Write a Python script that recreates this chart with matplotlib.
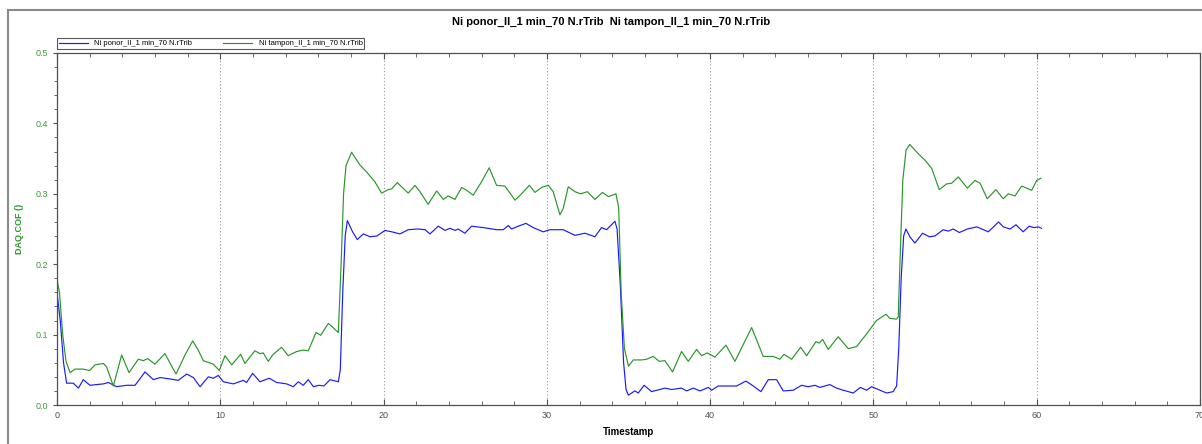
import numpy as np
import matplotlib
matplotlib.use("Agg")
import matplotlib.pyplot as plt
from matplotlib.patches import Rectangle
from matplotlib.ticker import MultipleLocator

plt.rcParams["font.family"] = ["Liberation Sans", "DejaVu Sans"]

TITLE = "Ni ponor_II_1 min_70 N.rTrib  Ni tampon_II_1 min_70 N.rTrib"
LABEL_PONOR = "Ni ponor_II_1 min_70 N.rTrib"
LABEL_TAMPON = "Ni tampon_II_1 min_70 N.rTrib"

# Ni tampon (green) - timestamp / COF
t_tampon = [0.0, 0.15, 0.35, 0.55, 0.8, 1.1, 1.6, 2.0, 2.33, 2.84, 3.04, 3.45, 3.96, 4.41, 4.98,
            5.29, 5.55, 6.0, 6.61, 7.29, 7.84, 8.31, 8.65, 8.96, 9.57, 9.94, 10.29, 10.7, 11.25,
            11.51, 12.12, 12.43, 12.63, 12.94, 13.2, 13.75, 14.16, 14.68, 15.08, 15.39, 15.86,
            16.15, 16.62, 17.23, 17.4, 17.55, 17.7, 18.04, 18.55, 18.96, 19.47, 19.88, 20.29,
            20.5, 20.84, 21.1, 21.51, 21.92, 22.23, 22.73, 23.25, 23.66, 23.96, 24.37, 24.78,
            25.09, 25.49, 26.0, 26.47, 26.92, 27.43, 28.05, 28.45, 28.93, 29.27, 29.68, 30.09,
            30.39, 30.8, 31.0, 31.31, 31.72, 32.07, 32.48, 32.94, 33.41, 33.76, 34.23, 34.4,
            34.55, 34.75, 35.0, 35.29, 35.8, 36.11, 36.51, 36.88, 37.23, 37.7, 38.25, 38.66,
            39.17, 39.48, 39.82, 40.29, 40.97, 41.52, 42.54, 43.25, 43.86, 44.27, 44.52, 44.99,
            45.54, 45.91, 46.48, 46.68, 46.89, 47.23, 47.84, 48.46, 48.97, 49.58, 50.19, 50.77,
            51.0, 51.42, 51.52, 51.65, 51.8, 52.0, 52.23, 52.74, 53.15, 53.57, 54.03, 54.48,
            54.79, 55.2, 55.75, 56.22, 56.53, 56.97, 57.5, 57.95, 58.26, 58.67, 59.08, 59.69,
            60.0, 60.25]
cof_tampon = [0.178, 0.16, 0.10, 0.062, 0.046, 0.051, 0.051, 0.049, 0.057, 0.059, 0.054, 0.027,
              0.071, 0.046, 0.065, 0.063, 0.066, 0.058, 0.073, 0.044, 0.071, 0.091, 0.078, 0.063,
              0.058, 0.049, 0.070, 0.057, 0.072, 0.059, 0.077, 0.073, 0.074, 0.062, 0.071, 0.082,
              0.070, 0.076, 0.078, 0.077, 0.103, 0.099, 0.116, 0.103, 0.20, 0.30, 0.34, 0.359,
              0.341, 0.331, 0.317, 0.301, 0.306, 0.307, 0.316, 0.310, 0.301, 0.312, 0.303, 0.285,
              0.304, 0.292, 0.297, 0.292, 0.309, 0.305, 0.298, 0.317, 0.337, 0.312, 0.311, 0.291,
              0.300, 0.312, 0.302, 0.309, 0.312, 0.303, 0.270, 0.279, 0.310, 0.303, 0.300, 0.303,
              0.292, 0.302, 0.296, 0.300, 0.28, 0.16, 0.08, 0.055, 0.064, 0.064, 0.065, 0.069,
              0.062, 0.063, 0.047, 0.076, 0.062, 0.079, 0.070, 0.074, 0.068, 0.085, 0.062, 0.110,
              0.069, 0.069, 0.065, 0.072, 0.065, 0.082, 0.070, 0.090, 0.088, 0.093, 0.079, 0.097,
              0.080, 0.083, 0.101, 0.120, 0.129, 0.123, 0.122, 0.125, 0.22, 0.32, 0.362, 0.370,
              0.357, 0.348, 0.336, 0.306, 0.314, 0.315, 0.324, 0.308, 0.319, 0.315, 0.293, 0.306,
              0.293, 0.300, 0.297, 0.311, 0.305, 0.319, 0.322]

# Ni ponor (blue)
t_ponor = [0.0, 0.2, 0.4, 0.59, 1.0, 1.31, 1.61, 2.02, 2.84, 3.14, 3.65, 4.27, 4.78, 5.39, 5.9,
           6.31, 6.92, 7.43, 7.94, 8.35, 8.76, 9.27, 9.57, 9.88, 10.19, 10.8, 11.41, 11.61,
           11.98, 12.43, 13.0, 13.45, 14.06, 14.47, 14.78, 15.08, 15.39, 15.7, 16.06, 16.35,
           16.72, 17.23, 17.35, 17.5, 17.65, 17.78, 18.1, 18.39, 18.76, 19.17, 19.58, 20.09,
           20.5, 21.0, 21.51, 22.13, 22.54, 22.84, 23.35, 23.76, 24.07, 24.37, 24.57, 24.98,
           25.39, 26.1, 26.92, 27.33, 27.64, 27.84, 28.25, 28.72, 29.17, 29.78, 30.19, 31.0,
           31.72, 32.33, 32.94, 33.35, 33.66, 34.17, 34.3, 34.5, 34.7, 34.85, 34.99, 35.39,
           35.6, 35.95, 36.42, 37.23, 37.64, 38.25, 38.56, 38.97, 39.38, 39.89, 40.09, 40.5,
           41.11, 41.62, 42.19, 42.64, 43.11, 43.56, 44.07, 44.48, 45.09, 45.6, 46.0, 46.42,
           46.72, 47.33, 47.74, 48.15, 48.76, 49.2, 49.58, 49.89, 50.3, 50.81, 51.21, 51.42,
           51.55, 51.7, 51.85, 51.99, 52.23, 52.54, 53.01, 53.42, 53.76, 54.27, 54.58, 54.89,
           55.26, 55.75, 56.33, 56.63, 57.04, 57.66, 57.96, 58.37, 58.73, 59.17, 59.54, 59.83,
           60.09, 60.29]
cof_ponor = [0.159, 0.12, 0.06, 0.031, 0.031, 0.024, 0.036, 0.028, 0.030, 0.032, 0.026, 0.028,
             0.028, 0.047, 0.036, 0.039, 0.037, 0.035, 0.044, 0.039, 0.026, 0.040, 0.038, 0.042,
             0.033, 0.030, 0.035, 0.032, 0.045, 0.033, 0.038, 0.032, 0.030, 0.026, 0.033, 0.028,
             0.036, 0.026, 0.028, 0.027, 0.036, 0.033, 0.05, 0.16, 0.24, 0.262, 0.246, 0.235,
             0.243, 0.239, 0.240, 0.248, 0.246, 0.243, 0.249, 0.250, 0.249, 0.243, 0.254, 0.248,
             0.251, 0.248, 0.250, 0.244, 0.254, 0.252, 0.249, 0.249, 0.255, 0.250, 0.254, 0.258,
             0.252, 0.246, 0.249, 0.249, 0.241, 0.244, 0.239, 0.252, 0.249, 0.261, 0.25, 0.17,
             0.06, 0.022, 0.014, 0.020, 0.017, 0.028, 0.019, 0.024, 0.022, 0.024, 0.020, 0.024,
             0.020, 0.025, 0.021, 0.027, 0.027, 0.027, 0.034, 0.027, 0.019, 0.036, 0.036, 0.020,
             0.021, 0.028, 0.026, 0.028, 0.025, 0.029, 0.024, 0.021, 0.017, 0.025, 0.021, 0.026,
             0.022, 0.017, 0.019, 0.027, 0.08, 0.18, 0.24, 0.250, 0.239, 0.230, 0.244, 0.239,
             0.240, 0.249, 0.247, 0.250, 0.245, 0.250, 0.253, 0.250, 0.246, 0.260, 0.253, 0.250,
             0.256, 0.246, 0.254, 0.252, 0.253, 0.251]

W, H = 1202, 444
fig = plt.figure(figsize=(W / 100, H / 100), dpi=100)
ax = fig.add_axes([57 / W, 1 - 405 / H, (1200 - 57) / W, (405 - 53) / H])

# grey outer frame of the exported window
fig.patches.append(Rectangle((8 / W, -0.05), 1.2, 1 - 10 / H + 0.05, transform=fig.transFigure,
                             fill=False, edgecolor="#8a8a8a", linewidth=1.5))

ax.plot(t_ponor, cof_ponor, color="#1a1aff", linewidth=0.85, label=LABEL_PONOR)
ax.plot(t_tampon, cof_tampon, color="#2a962a", linewidth=0.85, label=LABEL_TAMPON)

ax.set_xlim(0, 70)
ax.set_ylim(0, 0.5)
ax.xaxis.set_major_locator(MultipleLocator(10))
ax.xaxis.set_minor_locator(MultipleLocator(2))
ax.yaxis.set_major_locator(MultipleLocator(0.1))
ax.yaxis.set_minor_locator(MultipleLocator(0.02))
ax.yaxis.set_major_formatter(matplotlib.ticker.FormatStrFormatter("%.1f"))

ax.grid(axis="x", which="major", linestyle=(0, (1, 2)), color="#9a9a9a", linewidth=0.8)
for s in ax.spines.values():
    s.set_color("#505050")
    s.set_linewidth(0.9)

ax.tick_params(axis="x", which="both", direction="in", top=True, color="#505050",
               labelsize=6.5, labelcolor="#505050", pad=4)
ax.tick_params(axis="x", which="major", length=4)
ax.tick_params(axis="x", which="minor", length=3)
ax.tick_params(axis="y", which="both", direction="out", color="#505050",
               labelsize=6.5, labelcolor="#3c9a3c")
ax.tick_params(axis="y", which="major", length=3)
ax.tick_params(axis="y", which="minor", length=2)

ax.set_xlabel("Timestamp", fontsize=7, fontweight="bold", color="black", labelpad=5)
ax.set_ylabel("DAQ.COF ()", fontsize=6.5, fontweight="bold", color="#2a962a")
ax.yaxis.set_label_coords(-0.029, 0.5)

fig.text(611 / W, 1 - 22 / H, TITLE, ha="center", va="center", fontsize=8, fontweight="bold")

leg = ax.legend(loc="lower left", bbox_to_anchor=(0, 1.012), ncol=2, fontsize=5.5,
                frameon=True, fancybox=False, borderpad=0.2, handlelength=3.8,
                handletextpad=0.9, columnspacing=4.0, borderaxespad=0)
leg.get_frame().set_edgecolor("#303030")
leg.get_frame().set_linewidth(0.8)

fig.savefig("out.png", dpi=100)
